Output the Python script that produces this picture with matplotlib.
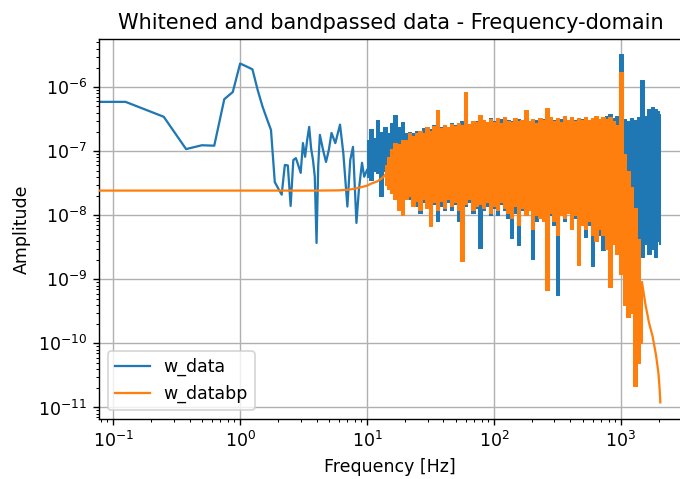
import numpy as np
import matplotlib
matplotlib.use("Agg")
import matplotlib.pyplot as plt

# whitened strain, low-frequency part (every bin)
f_w_low = [0.0625, 0.125, 0.25, 0.375, 0.5, 0.625, 0.75, 0.875, 1.0, 1.125, 1.25,
           1.375, 1.5, 1.625, 1.75, 1.875, 2.0, 2.125, 2.25, 2.375, 2.5, 2.625,
           2.75, 2.875, 3.0, 3.125, 3.25, 3.375, 3.5, 3.625, 3.75, 3.875, 4.0,
           4.125, 4.25, 4.5, 4.75, 5.0, 5.25, 5.625, 6.125, 6.5, 7.0, 7.375,
           7.75, 8.25, 8.625, 9.125, 9.5, 10.0]
w_low = [5.9e-7, 5.9e-7, 3.45e-7, 1.08e-7, 1.24e-7, 1.22e-7, 6.5e-7, 8.4e-7, 2.34e-6,
         2.1e-6, 1.9e-6, 9.0e-7, 5.0e-7, 3.2e-7, 2.15e-7, 3.3e-8, 2.6e-8, 2.1e-8,
         6.1e-8, 6.0e-8, 1.4e-8, 7.3e-8, 7.8e-8, 6.0e-8, 4.6e-8, 1.34e-7, 8.2e-8,
         1.5e-7, 2.4e-7, 1.1e-7, 7.3e-8, 4.0e-8, 3.7e-9, 6.0e-8, 1.8e-7, 1.05e-7,
         6.8e-8, 1.05e-7, 1.93e-7, 1.34e-7, 2.6e-7, 9.4e-8, 1.37e-8, 7.3e-8,
         1.17e-7, 7.6e-9, 2.5e-8, 6.6e-8, 4.0e-8, 5.1e-8]

# dense part: per frequency bin, the top and bottom of the noise band
f_band = [10.0, 10.7, 11.4, 12.1, 12.9, 13.8, 14.7, 15.6, 16.7, 17.8, 19.0, 20.2,
          21.5, 23.0, 24.5, 26.1, 27.8, 29.6, 31.6, 33.7, 35.9, 38.3, 40.8, 43.5,
          46.4, 49.5, 52.7, 56.2, 59.9, 63.8, 68.1, 72.6, 77.4, 82.5, 87.9, 93.7,
          100, 107, 114, 121, 129, 138, 147, 156, 167, 178, 190, 202, 215, 230,
          245, 261, 278, 296, 316, 337, 359, 383, 408, 435, 464, 495, 527, 562,
          599, 638, 681, 726, 774, 825, 879, 937,
          1000, 1066, 1137, 1212, 1292, 1377, 1468, 1565, 1668, 1778, 1896, 1980, 2048]

w_hi = [1.5e-7, 2.2e-7, 1.6e-7, 3.1e-7, 2.0e-7, 2.4e-7, 1.9e-7, 2.8e-7, 3.7e-7, 2.4e-7,
        2.9e-7, 1.9e-7, 2.0e-7, 1.9e-7, 2.1e-7, 2.0e-7, 2.3e-7, 2.4e-7, 2.2e-7, 2.6e-7,
        3.0e-7, 2.4e-7, 2.6e-7, 2.4e-7, 2.8e-7, 2.6e-7, 2.7e-7, 3.0e-7, 3.2e-7, 2.7e-7,
        2.9e-7, 3.0e-7, 2.8e-7, 3.1e-7, 2.9e-7, 3.3e-7,
        3.0e-7, 2.8e-7, 3.2e-7, 2.9e-7, 3.1e-7, 3.0e-7, 2.9e-7, 3.2e-7, 2.8e-7, 3.3e-7,
        3.0e-7, 2.9e-7, 3.1e-7, 3.0e-7, 3.2e-7, 2.9e-7, 3.0e-7, 3.1e-7, 2.9e-7, 3.2e-7,
        3.0e-7, 3.1e-7, 2.9e-7, 3.1e-7, 3.0e-7, 3.2e-7, 3.0e-7, 3.1e-7, 3.0e-7, 3.2e-7,
        3.1e-7, 3.3e-7, 3.5e-7, 3.8e-7, 3.3e-7, 3.6e-7,
        3.3e-6, 3.2e-7, 3.0e-7, 3.3e-7, 3.1e-7, 3.4e-7, 1.3e-6, 3.6e-7, 4.5e-7, 4.9e-7,
        4.6e-7, 4.2e-7, 3.8e-7]
w_lo = [4.0e-8, 3.5e-8, 5.0e-8, 4.5e-8, 2.0e-8, 5.0e-8, 5.5e-8, 4.0e-8, 4.5e-8, 3.0e-8,
        2.5e-8, 2.0e-8, 1.8e-8, 1.5e-8, 1.4e-8, 1.1e-8, 1.6e-8, 1.5e-8, 8.0e-9, 1.5e-8,
        8.0e-9, 1.4e-8, 1.2e-8, 1.6e-8, 1.2e-8, 1.5e-8, 8.0e-9, 1.0e-8, 1.4e-8, 1.6e-8,
        1.1e-8, 1.3e-8, 3.1e-9, 1.2e-8, 1.4e-8, 1.0e-8,
        1.3e-8, 1.0e-8, 1.5e-8, 1.2e-8, 9.0e-9, 4.4e-9, 1.1e-8, 3.4e-9, 1.2e-8, 1.0e-8,
        1.3e-8, 2.1e-9, 8.0e-9, 1.1e-8, 9.0e-9, 6.8e-10, 1.0e-8, 7.0e-9, 5.7e-10, 1.0e-8,
        8.0e-9, 1.1e-8, 7.0e-9, 9.0e-9, 6.0e-9, 8.0e-9, 4.5e-9, 7.0e-9, 1.6e-9, 6.0e-9,
        5.0e-9, 2.9e-9, 4.0e-9, 5.0e-9, 4.0e-9, 3.0e-9,
        5.0e-9, 5.0e-9, 4.0e-9, 3.5e-9, 2.5e-9, 3.0e-9, 2.2e-9, 3.5e-9, 2.5e-9, 3.0e-9,
        2.2e-9, 4.0e-9, 3.5e-9]

# bandpassed: smooth below ~13 Hz, noisy band 13.8-1468 Hz, smooth tail to Nyquist
f_bp_low = [0.0625, 1.0, 2.0, 4.0, 6.0, 7.0, 8.0, 9.0, 10.0, 10.7, 11.4, 12.1, 12.9, 13.8]
bp_low = [2.43e-8, 2.43e-8, 2.43e-8, 2.43e-8, 2.45e-8, 2.5e-8, 2.6e-8, 2.75e-8,
          2.9e-8, 3.1e-8, 3.25e-8, 3.4e-8, 3.7e-8, 4.2e-8]

bp_hi = [6.0e-8, 8.0e-8, 1.1e-7, 1.35e-7, 1.3e-7, 1.5e-7, 1.5e-7, 1.9e-7, 1.7e-7, 1.9e-7,
         2.1e-7, 1.9e-7, 2.4e-7, 2.1e-7, 2.5e-7, 4.4e-7, 2.3e-7, 2.6e-7, 2.4e-7, 2.7e-7,
         2.5e-7, 2.8e-7, 2.6e-7, 8.5e-7, 2.7e-7, 3.0e-7, 2.9e-7, 3.7e-7, 3.1e-7, 2.9e-7,
         3.2e-7,
         2.9e-7, 3.3e-7, 2.8e-7, 3.4e-7, 3.0e-7, 2.9e-7, 3.3e-7, 3.0e-7, 3.1e-7, 4.4e-7,
         3.0e-7, 3.2e-7, 2.8e-7, 3.3e-7, 3.1e-7, 4.7e-7, 3.4e-7, 3.0e-7, 3.3e-7, 2.9e-7,
         3.5e-7, 3.1e-7, 3.4e-7, 3.0e-7, 3.3e-7, 3.1e-7, 3.4e-7, 3.1e-7, 3.3e-7, 3.6e-7,
         3.2e-7, 3.4e-7, 3.2e-7, 3.4e-7, 3.0e-7, 2.6e-7,
         1.75e-6, 9.0e-8, 5.0e-8, 2.8e-8, 1.3e-8, 4.2e-9, 9.0e-10]
bp_lo = [3.0e-8, 2.6e-8, 2.2e-8, 1.8e-8, 1.2e-8, 1.0e-8, 1.8e-8, 2.0e-8, 1.4e-8, 1.7e-8,
         1.2e-8, 1.8e-8, 1.3e-8, 6.7e-9, 1.6e-8, 1.2e-8, 1.7e-8, 1.3e-8, 1.8e-8, 1.4e-8,
         1.6e-8, 1.2e-8, 1.9e-9, 1.5e-8, 1.8e-8, 1.2e-8, 1.4e-8, 1.5e-8, 1.3e-8, 1.6e-8,
         1.1e-8,
         1.4e-8, 1.2e-8, 1.6e-8, 1.3e-8, 1.1e-8, 9.0e-9, 1.4e-8, 7.0e-9, 1.3e-8, 1.0e-8,
         1.2e-8, 6.0e-9, 1.0e-8, 9.0e-9, 8.0e-9, 6.8e-10, 1.1e-8, 8.0e-9, 5.0e-9, 1.0e-8,
         9.0e-9, 1.1e-8, 6.0e-9, 1.0e-8, 1.7e-9, 7.0e-9, 6.0e-9, 8.0e-9, 5.0e-9, 4.0e-9,
         6.0e-9, 5.0e-9, 3.0e-9, 7.6e-10, 3.5e-9, 2.5e-9,
         1.2e-9, 4.0e-10, 2.6e-10, 3.0e-10, 2.2e-11, 5.0e-11, 1.0e-10]
f_bp = f_band[f_band.index(13.8):f_band.index(1468) + 1]

f_bp_tail = [1468, 1565, 1668, 1778, 1896, 1980, 2020, 2048]
bp_tail = [9.0e-10, 4.0e-10, 2.1e-10, 1.3e-10, 6.5e-11, 3.4e-11, 2.0e-11, 1.2e-11]


fig = plt.figure(figsize=(5.44, 3.832), dpi=125)
ax = fig.add_axes([0.146, 0.1253, 0.856, 0.793])

ax.loglog(f_w_low, w_low, color='C0', lw=1.3, label='w_data', zorder=2)
ax.fill_between(f_band, w_lo, w_hi, step='mid', color='C0', lw=0.6, zorder=2)

ax.loglog(f_bp_low, bp_low, color='C1', lw=1.3, label='w_databp', zorder=3)
ax.fill_between(f_bp, bp_lo, bp_hi, step='mid', color='C1', lw=0.6, zorder=3)
ax.loglog(f_bp_tail, bp_tail, color='C1', lw=1.3, zorder=3)

ax.set_xlim(0.0776, 3000)
ax.set_ylim(10 ** -11.18, 10 ** -5.25)
ax.grid(True)
ax.set_title('Whitened and bandpassed data - Frequency-domain')
ax.set_xlabel('Frequency [Hz]')
ax.set_ylabel('Amplitude')
ax.legend(loc='lower left')

fig.savefig('out.png', dpi=125)
